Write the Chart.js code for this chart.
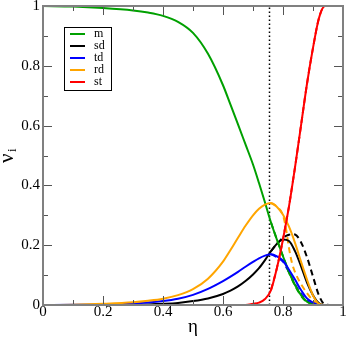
<!DOCTYPE html>
<html>
<head>
<meta charset="utf-8">
<script src="https://cdn.jsdelivr.net/npm/chart.js@4/dist/chart.umd.min.js"></script>
<style>
  html, body { margin: 0; padding: 0; background: #fff; }
  #wrap { width: 346px; height: 338px; }
</style>
</head>
<body>
<div id="wrap"><canvas id="chart" width="346" height="338"></canvas></div>
<script>
// packing fraction eta and the fractions nu_i (solid lines)
const eta = [0, 0.1, 0.2, 0.3, 0.35, 0.4, 0.45, 0.5, 0.55, 0.6, 0.625, 0.65, 0.675, 0.7, 0.72, 0.74, 0.76, 0.78, 0.8, 0.82, 0.84, 0.86, 0.88, 0.9, 0.92, 0.94, 0.97];
const m  = [1.0, 0.998, 0.993, 0.985, 0.978, 0.967, 0.947, 0.91, 0.84, 0.735, 0.67, 0.604, 0.537, 0.47, 0.408, 0.343, 0.276, 0.218, 0.163, 0.11, 0.067, 0.033, 0.011, 0.002, 0, 0, 0];
const sd = [0, 0, 0.0005, 0.001, 0.002, 0.004, 0.007, 0.013, 0.022, 0.037, 0.048, 0.062, 0.08, 0.102, 0.123, 0.15, 0.18, 0.205, 0.219, 0.214, 0.18, 0.13, 0.075, 0.033, 0.006, 0, 0];
const td = [0, 0.0005, 0.002, 0.005, 0.008, 0.013, 0.021, 0.034, 0.054, 0.08, 0.095, 0.111, 0.128, 0.144, 0.156, 0.165, 0.17, 0.163, 0.148, 0.118, 0.085, 0.05, 0.022, 0.008, 0, 0, 0];
const rd = [0, 0.001, 0.004, 0.009, 0.014, 0.021, 0.033, 0.053, 0.088, 0.145, 0.184, 0.225, 0.265, 0.3, 0.322, 0.336, 0.341, 0.328, 0.302, 0.262, 0.208, 0.145, 0.085, 0.032, 0.004, 0, 0];
const st = [0, 0, 0, 0, 0, 0, 0, 0, 0, 0, 0, 0, 0, 0.004, 0.008, 0.02, 0.05, 0.125, 0.22, 0.33, 0.46, 0.6, 0.74, 0.86, 0.96, 1.0, 1.0];

// dashed curves, right of the transition
const etaDash = [0.76, 0.78, 0.8, 0.81, 0.82, 0.83, 0.84, 0.86, 0.88, 0.9, 0.92, 0.94, 0.97];
const mDash  = [0.276, 0.218, 0.163, 0.136, 0.108, 0.086, 0.065, 0.031, 0.01, 0.002, 0, 0, 0];
const sdDash = [0.18, 0.205, 0.225, 0.231, 0.235, 0.237, 0.236, 0.21, 0.16, 0.095, 0.032, 0.002, 0];
const tdDash = [0.17, 0.16, 0.145, 0.128, 0.11, 0.09, 0.07, 0.038, 0.015, 0.003, 0, 0, 0];
const rdDash = [0.341, 0.328, 0.3, 0.255, 0.19, 0.14, 0.11, 0.07, 0.04, 0.015, 0.002, 0, 0];
const stDash = [0.05, 0.125, 0.22, 0.275, 0.33, 0.395, 0.46, 0.6, 0.74, 0.86, 0.96, 1.0, 1.0];

const transition = 0.755;
const labels = ["m", "sd", "td", "rd", "st"];
const colors = ["#00a000", "#000000", "#0000ff", "#ffa500", "#ff0000"];
const axisTicks = [0, 0.2, 0.4, 0.6, 0.8, 1];

const SERIF = '"Liberation Serif", "DejaVu Serif", serif';
const pts = (xs, ys) => xs.map((x, i) => ({ x: x, y: ys[i] }));

const solid = [m, sd, td, rd, st];
const dashed = [mDash, sdDash, tdDash, rdDash, stDash];

const datasets = [];
solid.forEach((ys, i) => {
  datasets.push({
    label: labels[i], data: pts(eta, ys), borderColor: colors[i],
    borderWidth: 2, pointRadius: 0, cubicInterpolationMode: "monotone",
    order: [3, 4, 2, 1, 0][i]
  });
});
dashed.forEach((ys, i) => {
  datasets.push({
    label: labels[i] + " (dashed)", data: pts(etaDash, ys), borderColor: colors[i],
    borderWidth: 2, borderDash: [6, 4], pointRadius: 0, cubicInterpolationMode: "monotone",
    order: 6 + i
  });
});
datasets.push({
  label: "transition", data: [{ x: transition, y: 0 }, { x: transition, y: 1 }],
  borderColor: "#000", borderWidth: 1.5, borderDash: [1.5, 2.5], pointRadius: 0, order: 20
});

// frame, inward ticks, axis titles and the boxed legend
const decor = {
  id: "decor",
  afterDraw(chart) {
    const { ctx, chartArea: a, scales } = chart;
    const xs = scales.x, ys = scales.y;
    ctx.save();
    ctx.strokeStyle = "#555";
    ctx.lineWidth = 1;
    for (let k = 1; k < 10; k++) {
      const v = k / 10;
      const len = k % 2 === 0 ? 9 : 5;
      const px = Math.round(xs.getPixelForValue(v)) + 0.5;
      const py = Math.round(ys.getPixelForValue(v)) + 0.5;
      ctx.beginPath();
      ctx.moveTo(px, a.bottom); ctx.lineTo(px, a.bottom - len);
      ctx.moveTo(px, a.top); ctx.lineTo(px, a.top + len);
      ctx.moveTo(a.left, py); ctx.lineTo(a.left + len, py);
      ctx.moveTo(a.right, py); ctx.lineTo(a.right - len, py);
      ctx.stroke();
    }
    ctx.strokeStyle = "#808080";
    ctx.lineWidth = 2;
    ctx.strokeRect(a.left, a.top, a.right - a.left, a.bottom - a.top);

    // axis titles
    ctx.fillStyle = "#000";
    ctx.textAlign = "center";
    ctx.textBaseline = "middle";
    ctx.font = "19px " + SERIF;
    ctx.fillText("η", (a.left + a.right) / 2, 327);
    ctx.save();
    ctx.translate(7, 157);
    ctx.rotate(-Math.PI / 2);
    ctx.font = "21px " + SERIF;
    ctx.textAlign = "left";
    ctx.fillText("ν", -6, 0);
    ctx.font = "13px " + SERIF;
    ctx.fillText("i", 5, 6);
    ctx.restore();

    // legend
    ctx.strokeStyle = "#000";
    ctx.lineWidth = 1;
    ctx.strokeRect(64.5, 27.5, 47, 63);
    ctx.font = "12px " + SERIF;
    ctx.textAlign = "left";
    labels.forEach((lab, i) => {
      const y = 34 + i * 12;
      ctx.strokeStyle = colors[i];
      ctx.lineWidth = 2;
      ctx.beginPath();
      ctx.moveTo(70, y); ctx.lineTo(85, y);
      ctx.stroke();
      ctx.fillStyle = "#000";
      ctx.fillText(lab, 94, y);
    });
    ctx.restore();
  }
};

const fmt = (v) => String(Math.round(v * 10) / 10);

new Chart(document.getElementById("chart").getContext("2d"), {
  type: "line",
  data: { datasets: datasets },
  plugins: [decor],
  options: {
    responsive: false,
    animation: false,
    layout: { padding: { top: 6, right: 3, left: 0, bottom: 0 } },
    plugins: { legend: { display: false }, tooltip: { enabled: false } },
    scales: {
      x: {
        type: "linear", min: 0, max: 1,
        afterBuildTicks: (s) => { s.ticks = axisTicks.map(v => ({ value: v })); },
        afterFit: (s) => { s.height = 33; s.paddingLeft = 0; s.paddingRight = 0; },
        grid: { display: false, drawTicks: false },
        border: { display: false },
        ticks: { font: { family: SERIF, size: 15 }, color: "#000", padding: -2, maxRotation: 0, autoSkip: false, callback: fmt }
      },
      y: {
        min: 0, max: 1,
        afterBuildTicks: (s) => { s.ticks = axisTicks.map(v => ({ value: v })); },
        afterFit: (s) => { s.width = 43; s.paddingTop = 0; s.paddingBottom = 0; },
        grid: { display: false, drawTicks: false },
        border: { display: false },
        ticks: { font: { family: SERIF, size: 15 }, color: "#000", padding: 3, callback: fmt }
      }
    }
  }
});
</script>
</body>
</html>
